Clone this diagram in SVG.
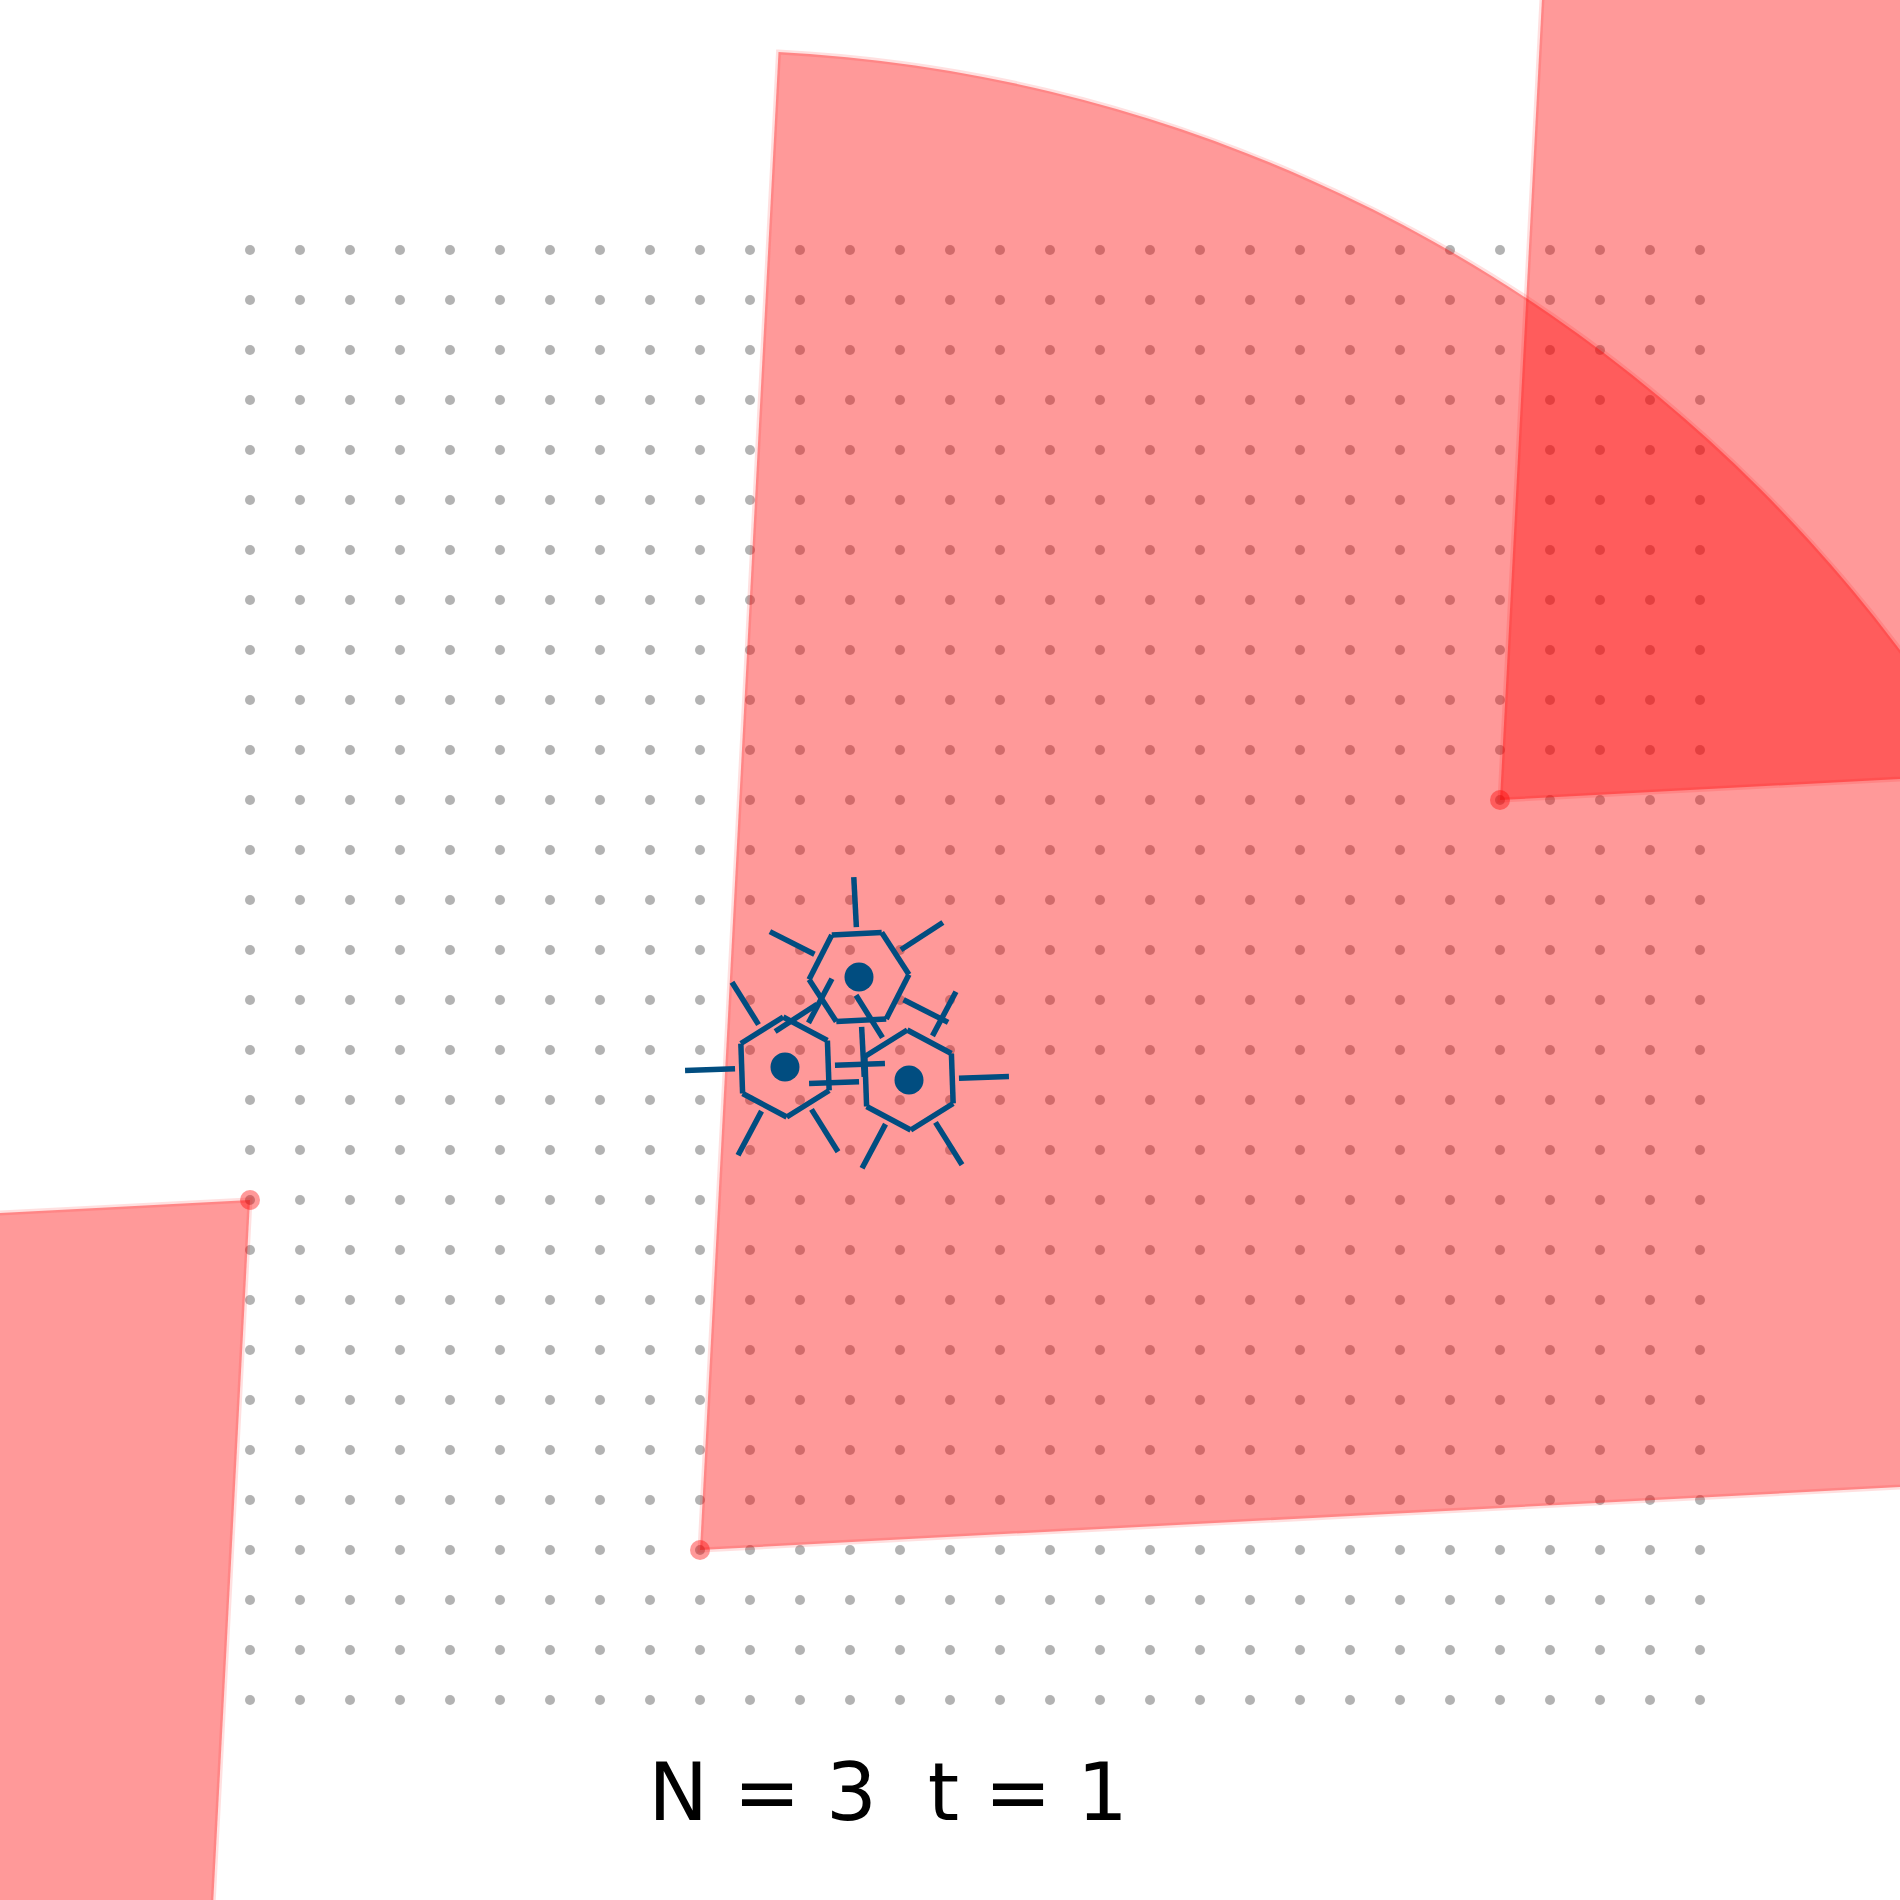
<svg xmlns="http://www.w3.org/2000/svg" width="1900" height="1900" viewBox="0 0 1900 1900">
<defs>
<style>
.wedge{fill:#ff0000;fill-opacity:0.4;stroke:#ff0000;stroke-opacity:0.12;stroke-width:5}
.apex{fill:#ff0000;fill-opacity:0.4}
.mol line{stroke:#014d80;stroke-width:5.5;stroke-linecap:butt}
.mol circle{fill:#014d80}
.label{font-family:"DejaVu Sans","Liberation Sans",sans-serif;font-size:80px;fill:#000}
</style>
<pattern id="dots" x="225" y="225" width="50" height="50" patternUnits="userSpaceOnUse">
<circle cx="25" cy="25" r="5" fill="#b3b3b3"/>
</pattern>
</defs>
<rect width="1900" height="1900" fill="#ffffff"/>
<g id="grid"><rect x="225" y="225" width="1500" height="1500" fill="url(#dots)"/></g>
<g id="wedges">
<path class="wedge" d="M700,1550 L778.51,52.05 A1500,1500 0 0 1 2197.94,1471.49 Z"/>
<path class="wedge" d="M1500,800 L1578.51,-697.95 A1500,1500 0 0 1 2997.94,721.49 Z"/>
<path class="wedge" d="M250,1200 L171.49,2697.94 A1500,1500 0 0 1 -1247.94,1278.51 Z"/>
<circle class="apex" cx="700" cy="1550" r="10"/>
<circle class="apex" cx="1500" cy="800" r="10"/>
<circle class="apex" cx="250" cy="1200" r="10"/>
</g>
<g id="molA" class="mol">
<line x1="908.93" y1="974.38" x2="886.23" y2="1018.93"/>
<line x1="886.23" y1="1018.93" x2="836.30" y2="1021.55"/>
<line x1="836.30" y1="1021.55" x2="809.07" y2="979.62"/>
<line x1="809.07" y1="979.62" x2="831.77" y2="935.07"/>
<line x1="831.77" y1="935.07" x2="881.70" y2="932.45"/>
<line x1="881.70" y1="932.45" x2="908.93" y2="974.38"/>
<line x1="903.55" y1="999.70" x2="948.10" y2="1022.40"/>
<line x1="861.62" y1="1026.93" x2="864.23" y2="1076.86"/>
<line x1="817.07" y1="1004.23" x2="775.13" y2="1031.46"/>
<line x1="814.45" y1="954.30" x2="769.90" y2="931.60"/>
<line x1="856.38" y1="927.07" x2="853.77" y2="877.14"/>
<line x1="900.93" y1="949.77" x2="942.87" y2="922.54"/>
<circle cx="859" cy="977" r="14.5"/>
</g>
<g id="molB" class="mol">
<line x1="783.25" y1="1017.03" x2="827.40" y2="1040.50"/>
<line x1="827.40" y1="1040.50" x2="829.15" y2="1090.47"/>
<line x1="829.15" y1="1090.47" x2="786.75" y2="1116.97"/>
<line x1="786.75" y1="1116.97" x2="742.60" y2="1093.50"/>
<line x1="742.60" y1="1093.50" x2="740.85" y2="1043.53"/>
<line x1="740.85" y1="1043.53" x2="783.25" y2="1017.03"/>
<line x1="834.97" y1="1065.26" x2="884.94" y2="1063.51"/>
<line x1="811.50" y1="1109.40" x2="837.99" y2="1151.81"/>
<line x1="761.53" y1="1111.15" x2="738.05" y2="1155.30"/>
<line x1="735.03" y1="1068.75" x2="685.06" y2="1070.49"/>
<line x1="758.50" y1="1024.60" x2="732.01" y2="982.20"/>
<line x1="808.47" y1="1022.85" x2="831.95" y2="978.71"/>
<circle cx="785" cy="1067" r="14.5"/>
</g>
<g id="molC" class="mol">
<line x1="907.25" y1="1030.03" x2="951.40" y2="1053.50"/>
<line x1="951.40" y1="1053.50" x2="953.15" y2="1103.47"/>
<line x1="953.15" y1="1103.47" x2="910.75" y2="1129.97"/>
<line x1="910.75" y1="1129.97" x2="866.60" y2="1106.50"/>
<line x1="866.60" y1="1106.50" x2="864.85" y2="1056.53"/>
<line x1="864.85" y1="1056.53" x2="907.25" y2="1030.03"/>
<line x1="958.97" y1="1078.26" x2="1008.94" y2="1076.51"/>
<line x1="935.50" y1="1122.40" x2="961.99" y2="1164.81"/>
<line x1="885.53" y1="1124.15" x2="862.05" y2="1168.30"/>
<line x1="859.03" y1="1081.75" x2="809.06" y2="1083.49"/>
<line x1="882.50" y1="1037.60" x2="856.01" y2="995.20"/>
<line x1="932.47" y1="1035.85" x2="955.95" y2="991.71"/>
<circle cx="909" cy="1080" r="14.5"/>
</g>
<text class="label" x="888" y="1820" text-anchor="middle" xml:space="preserve">N = 3  t = 1</text>
</svg>
